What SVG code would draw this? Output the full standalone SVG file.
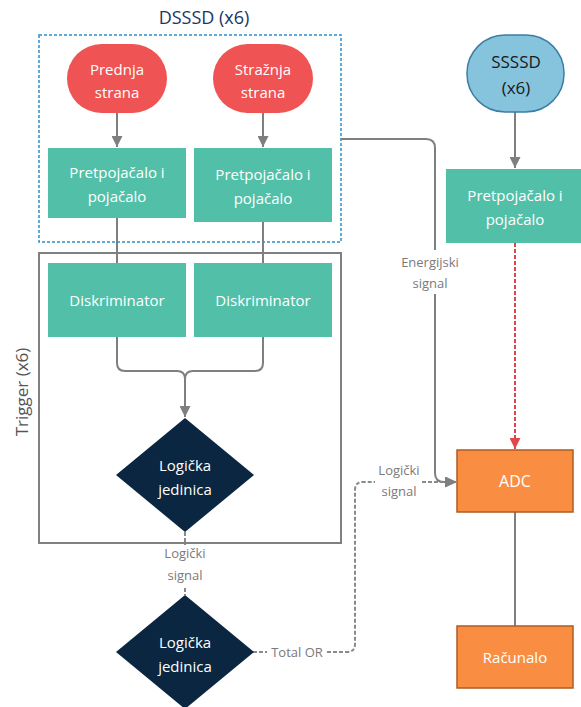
<svg xmlns="http://www.w3.org/2000/svg" width="581" height="707" viewBox="0 0 581 707">
<defs>
<marker id="ag" viewBox="0 0 10 10" refX="10" refY="5" markerWidth="11" markerHeight="11" markerUnits="userSpaceOnUse" orient="auto"><path d="M0,0 L10,5 L0,10 Z" fill="#7f7f7f"/></marker>
<marker id="ar" viewBox="0 0 10 10" refX="10" refY="5" markerWidth="11" markerHeight="11" markerUnits="userSpaceOnUse" orient="auto"><path d="M0,0 L10,5 L0,10 Z" fill="#e0474c"/></marker>
<style>
.t{font-family:"Open Sans","Noto Sans",sans-serif;font-size:15px;fill:#fff;text-anchor:middle}
.lbl{font-family:"Open Sans","Noto Sans",sans-serif;font-size:13px;fill:#7a7a7a;text-anchor:middle}
.teal{fill:#52c0a9}
.red{fill:#ef5353}
.navy{fill:#0b2640}
.org{fill:#f98e43;stroke:#b05a22;stroke-width:1.5}
.c{fill:none;stroke:#7f7f7f;stroke-width:2}
.d{fill:none;stroke:#8a8a8a;stroke-width:2;stroke-dasharray:4 2}
</style>
</defs>
<rect width="581" height="707" fill="#fff"/>

<g id="dsssd-group">
<text x="204" y="24" style="font-family:'Open Sans','Noto Sans',sans-serif;font-size:18px;fill:#1b3566;text-anchor:middle">DSSSD (x6)</text>
<rect x="39" y="35" width="302" height="207" fill="none" stroke="#2a8fd0" stroke-width="1.5" stroke-dasharray="3 2"/>
</g>
<g id="trigger-group">
<rect x="39" y="253" width="302" height="290" fill="none" stroke="#808080" stroke-width="2"/>
<text transform="translate(28,392) rotate(-90)" style="font-family:'Open Sans','Noto Sans',sans-serif;font-size:17px;fill:#555;text-anchor:middle">Trigger (x6)</text>
</g>

<g id="connectors">
<path class="c" d="M117,113 V147" marker-end="url(#ag)"/>
<path class="c" d="M263,113 V147" marker-end="url(#ag)"/>
<path class="c" d="M117,218 V263"/>
<path class="c" d="M263,222 V263"/>
<path class="c" d="M117,337 V363 Q117,371 125,371 H177 Q185,371 185,379 V417" marker-end="url(#ag)"/>
<path class="c" d="M263,337 V363 Q263,371 255,371 H193 Q185,371 185,379"/>
<path class="c" d="M341,139 H426 Q435,139 435,148 V250"/>
<path class="c" d="M435,294 V473 Q435,482 444,482 H456" marker-end="url(#ag)"/>
<path class="c" d="M515,112 V168" marker-end="url(#ag)"/>
<path d="M515,243 V449" fill="none" stroke="#d9474c" stroke-width="2" stroke-dasharray="4 2" marker-end="url(#ar)"/>
<path class="c" d="M515,512 V626"/>
<path class="d" d="M185,532 V545"/>
<path class="d" d="M185,588 V595"/>
<path class="d" d="M253,652 H267"/>
<path class="d" d="M327,652 H347 Q355,652 355,644 V490 Q355,482 363,482 H375"/>
<path class="d" d="M422,482 H446"/>
<path d="M446,477 L457,482 L446,487 Z" fill="#7f7f7f"/>
<text class="lbl" x="430" y="267">Energijski</text>
<text class="lbl" x="430" y="288">signal</text>
<text class="lbl" x="399" y="475">Logički</text>
<text class="lbl" x="399" y="496">signal</text>
<text class="lbl" x="185" y="558">Logički</text>
<text class="lbl" x="185" y="580">signal</text>
<text class="lbl" x="297" y="657">Total OR</text>
</g>

<g id="prednja"><rect class="red" x="67" y="44" width="100" height="69" rx="34.5"/><text class="t" x="117" y="75">Prednja</text><text class="t" x="117" y="98">strana</text></g>
<g id="straznja"><rect class="red" x="213" y="44" width="100" height="69" rx="34.5"/><text class="t" x="263" y="75">Stražnja</text><text class="t" x="263" y="98">strana</text></g>
<g id="pre1"><rect class="teal" x="48" y="148" width="138" height="70"/><text class="t" x="117" y="178">Pretpojačalo i</text><text class="t" x="117" y="202">pojačalo</text></g>
<g id="pre2"><rect class="teal" x="194" y="148" width="138" height="74"/><text class="t" x="263" y="180">Pretpojačalo i</text><text class="t" x="263" y="204">pojačalo</text></g>
<g id="disk1"><rect class="teal" x="48" y="263" width="138" height="74"/><text class="t" x="117" y="306">Diskriminator</text></g>
<g id="disk2"><rect class="teal" x="194" y="263" width="138" height="74"/><text class="t" x="263" y="306">Diskriminator</text></g>
<g id="logic1"><path class="navy" d="M185,418 L254,475 L185,532 L116,475 Z"/><text class="t" x="185" y="471">Logička</text><text class="t" x="185" y="495">jedinica</text></g>
<g id="logic2"><path class="navy" d="M185,595 L254,652 L185,709 L116,652 Z"/><text class="t" x="185" y="648">Logička</text><text class="t" x="185" y="672">jedinica</text></g>
<g id="ssssd"><rect x="467" y="35" width="97" height="77" rx="38" fill="#86c3dd" stroke="#3d7ea6" stroke-width="1.5"/><text class="t" x="516" y="68" style="fill:#1a1a1a;font-size:17px">SSSSD</text><text class="t" x="516" y="94" style="fill:#1a1a1a;font-size:17px">(x6)</text></g>
<g id="pre3"><rect class="teal" x="446" y="169" width="138" height="74"/><text class="t" x="515" y="201">Pretpojačalo i</text><text class="t" x="515" y="225">pojačalo</text></g>
<g id="adc"><rect class="org" x="457" y="450" width="116" height="62"/><text class="t" x="515" y="487" style="font-size:16px">ADC</text></g>
<g id="racunalo"><rect class="org" x="457" y="626" width="116" height="62"/><text class="t" x="515" y="663">Računalo</text></g>
</svg>
